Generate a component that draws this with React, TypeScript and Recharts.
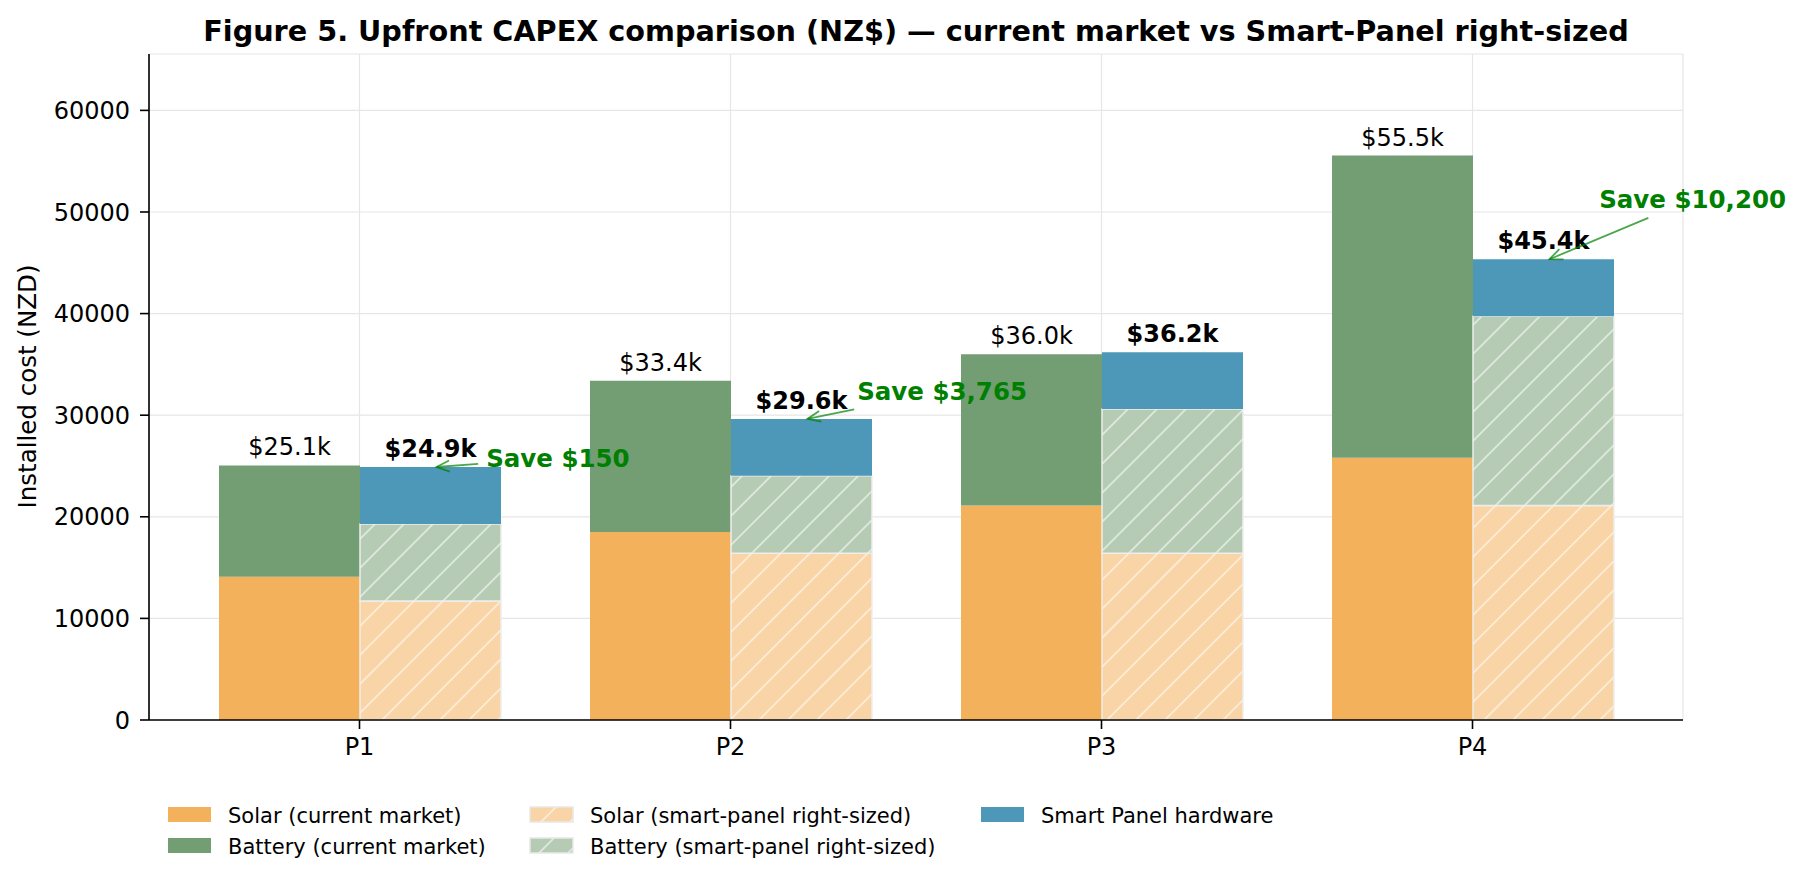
import React from 'react';
import { BarChart, Bar, XAxis, YAxis, CartesianGrid, LabelList } from 'recharts';

// ---------- data ----------
const categories = ['P1', 'P2', 'P3', 'P4'];
const solarCurrent = [14100, 18500, 21100, 25800];
const batteryCurrent = [10950, 14900, 14900, 29750];
const solarSmart = [11700, 16400, 16400, 21100];
const batterySmart = [7600, 7635, 14200, 18650];
const panelSmart = [5600, 5600, 5600, 5600];
const yTicks = [0, 10000, 20000, 30000, 40000, 50000, 60000];

const currentTotal = categories.map((_, i) => solarCurrent[i] + batteryCurrent[i]);
const smartTotal = categories.map((_, i) => solarSmart[i] + batterySmart[i] + panelSmart[i]);
const savings = categories.map((_, i) => currentTotal[i] - smartTotal[i]);
const yMax = Math.max(...currentTotal, ...smartTotal) * 1.18;

const data = categories.map((name, i) => ({
  name,
  solarCurrent: solarCurrent[i],
  batteryCurrent: batteryCurrent[i],
  solarSmart: solarSmart[i],
  batterySmart: batterySmart[i],
  panelSmart: panelSmart[i],
}));

// ---------- style ----------
const FONT = '"DejaVu Sans", Verdana, sans-serif';
const C_SOLAR = '#f3b15c';
const C_BATT = '#739e74';
const C_PANEL = '#4d98b8';
const C_SOLAR_L = '#f9d4a6';
const C_BATT_L = '#b6cbb4';
const C_SAVE = '#008000';

const BOLD_W: Record<string, number> = {
  S: 0.72, a: 0.675, v: 0.652, e: 0.678, ' ': 0.348, $: 0.696, ',': 0.38,
  '0': 0.696, '1': 0.696, '2': 0.696, '3': 0.696, '4': 0.696, '5': 0.696,
  '6': 0.696, '7': 0.696, '8': 0.696, '9': 0.696,
};
const boldWidth = (s: string, size: number) =>
  s.split('').reduce((acc, ch) => acc + (BOLD_W[ch] ?? 0.7), 0) * size;

const fmtK = (v: number) => `$${(v / 1000).toFixed(1)}k`;

const HatchDefs = ({ prefix }: { prefix: string }) => (
  <defs>
    <pattern id={`${prefix}-solar`} patternUnits="userSpaceOnUse" width="29" height="29">
      <rect width="29" height="29" fill={C_SOLAR_L} />
      <path d="M-7,7 L7,-7 M0,29 L29,0 M22,36 L36,22" stroke="#ffffff" strokeOpacity="0.55" strokeWidth="1.8" />
    </pattern>
    <pattern id={`${prefix}-batt`} patternUnits="userSpaceOnUse" width="29" height="29">
      <rect width="29" height="29" fill={C_BATT_L} />
      <path d="M-7,7 L7,-7 M0,29 L29,0 M22,36 L36,22" stroke="#ffffff" strokeOpacity="0.55" strokeWidth="1.8" />
    </pattern>
  </defs>
);

// ---------- labels ----------
const CurrentTotalLabel = (props: any) => {
  const { x, y, width, index } = props;
  return (
    <text x={x + width / 2} y={y - 10} textAnchor="middle" fontSize={24} fontFamily={FONT} fill="#000">
      {fmtK(currentTotal[index])}
    </text>
  );
};

const SmartLabel = (props: any) => {
  const { x, y, width, height, index } = props;
  const cx = x + width / 2;
  const save = savings[index];
  const els: React.ReactNode[] = [
    <text key="t" x={cx} y={y - 10} textAnchor="middle" fontSize={24} fontWeight="bold" fontFamily={FONT} fill="#000">
      {fmtK(smartTotal[index])}
    </text>,
  ];
  if (save > 0) {
    const pxPerUnit = height / panelSmart[index];
    const tipX = cx + 6;
    const tipY = y;
    const tx = cx + (width * 0.15) / 0.38;
    const ty = y - (800 + 0.5 * save) * pxPerUnit;
    const label = `Save $${save.toLocaleString('en-US')}`;
    const fs = 24.5;
    const w = boldWidth(label, fs);
    const ccx = tx + w / 2;
    const ccy = ty;
    const dx = tipX - ccx;
    const dy = tipY - ccy;
    let t = 1;
    if (dx !== 0) t = Math.min(t, Math.abs((w / 2 + 4) / dx));
    if (dy !== 0) t = Math.min(t, Math.abs(17 / dy));
    const sx0 = ccx + dx * t;
    const sy0 = ccy + dy * t;
    const len = Math.hypot(tipX - sx0, tipY - sy0);
    const ux = (tipX - sx0) / len;
    const uy = (tipY - sy0) / len;
    const sx = sx0 + ux * 4;
    const sy = sy0 + uy * 4;
    const hl = 13;
    const hw = 5.5;
    const p1x = tipX - ux * hl - uy * hw;
    const p1y = tipY - uy * hl + ux * hw;
    const p2x = tipX - ux * hl + uy * hw;
    const p2y = tipY - uy * hl - ux * hw;
    els.push(
      <g key="a" stroke={C_SAVE} strokeOpacity={0.7} strokeWidth={1.8} fill="none">
        <line x1={sx} y1={sy} x2={tipX} y2={tipY} />
        <polyline points={`${p1x},${p1y} ${tipX},${tipY} ${p2x},${p2y}`} />
      </g>,
      <text key="s" x={tx} y={ty} dy="0.36em" fontSize={fs} fontWeight="bold" fontFamily={FONT} fill={C_SAVE}>
        {label}
      </text>
    );
  }
  return <g>{els}</g>;
};

// ---------- legend ----------
const legendItems = [
  { label: 'Solar (current market)', fill: C_SOLAR, x: 168, row: 0, hatched: false },
  { label: 'Battery (current market)', fill: C_BATT, x: 168, row: 1, hatched: false },
  { label: 'Solar (smart-panel right-sized)', fill: 'url(#lg-solar)', x: 530, row: 0, hatched: true },
  { label: 'Battery (smart-panel right-sized)', fill: 'url(#lg-batt)', x: 530, row: 1, hatched: true },
  { label: 'Smart Panel hardware', fill: C_PANEL, x: 981, row: 0, hatched: false },
];

export default function App() {
  return (
    <div style={{ position: 'absolute', left: 0, top: 0, width: 1808, height: 883, background: '#fff', fontFamily: FONT }}>
      <BarChart
        width={1808}
        height={883}
        data={data}
        margin={{ top: 54, right: 125, bottom: 123, left: 0 }}
        barGap={0}
        barSize={141}
      >
        <HatchDefs prefix="ch" />
        <CartesianGrid stroke="#e6e6e6" strokeWidth={1.2} />
        <XAxis
          dataKey="name"
          padding={{ left: 25, right: 25 }}
          height={40}
          tickSize={9}
          tickMargin={9}
          axisLine={{ stroke: '#000', strokeWidth: 1.6 }}
          tickLine={{ stroke: '#000', strokeWidth: 1.6 }}
          tick={{ fill: '#000', fontSize: 24, fontFamily: FONT }}
        />
        <YAxis
          width={149}
          domain={[0, yMax]}
          ticks={yTicks}
          allowDataOverflow
          tickSize={9}
          tickMargin={10}
          axisLine={{ stroke: '#000', strokeWidth: 1.6 }}
          tickLine={{ stroke: '#000', strokeWidth: 1.6 }}
          tick={{ fill: '#000', fontSize: 24, fontFamily: FONT }}
        />
        <Bar dataKey="solarCurrent" stackId="cur" fill={C_SOLAR} isAnimationActive={false} />
        <Bar dataKey="batteryCurrent" stackId="cur" fill={C_BATT} isAnimationActive={false}>
          <LabelList dataKey="batteryCurrent" content={CurrentTotalLabel} />
        </Bar>
        <Bar dataKey="solarSmart" stackId="sp" fill="url(#ch-solar)" stroke="#eeeeee" strokeWidth={1.5} isAnimationActive={false} />
        <Bar dataKey="batterySmart" stackId="sp" fill="url(#ch-batt)" stroke="#eeeeee" strokeWidth={1.5} isAnimationActive={false} />
        <Bar dataKey="panelSmart" stackId="sp" fill={C_PANEL} isAnimationActive={false}>
          <LabelList dataKey="panelSmart" content={SmartLabel} />
        </Bar>
      </BarChart>

      <svg
        width={1808}
        height={883}
        style={{ position: 'absolute', left: 0, top: 0, pointerEvents: 'none' }}
      >
        <HatchDefs prefix="lg" />
        <text x={916} y={41} textAnchor="middle" fontSize={28.7} fontWeight="bold" fontFamily={FONT} fill="#000">
          Figure 5. Upfront CAPEX comparison (NZ$) — current market vs Smart-Panel right-sized
        </text>
        <text
          x={36}
          y={386.5}
          textAnchor="middle"
          fontSize={24.5}
          fontFamily={FONT}
          fill="#000"
          transform="rotate(-90 36 386.5)"
        >
          Installed cost (NZD)
        </text>
        {legendItems.map((it) => {
          const top = it.row === 0 ? 807 : 838;
          return (
            <g key={it.label}>
              <rect
                x={it.x}
                y={top}
                width={43}
                height={15}
                fill={it.fill}
                stroke={it.hatched ? '#e8e8e8' : 'none'}
                strokeWidth={1.5}
              />
              <text x={it.x + 60} y={top + 15.5} fontSize={21} fontFamily={FONT} fill="#000">
                {it.label}
              </text>
            </g>
          );
        })}
      </svg>
    </div>
  );
}
